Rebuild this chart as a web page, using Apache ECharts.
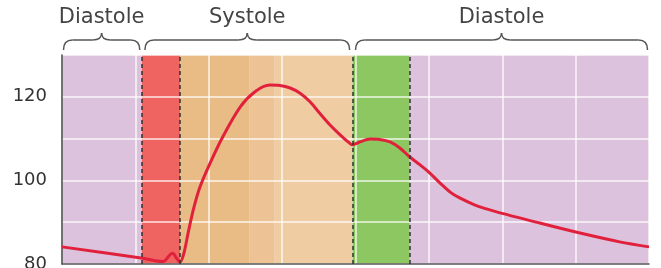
<!DOCTYPE html>
<html>
<head>
    <meta charset="utf-8">
    <script src="https://cdn.jsdelivr.net/npm/echarts@6/dist/echarts.min.js"></script>
    <title></title>
    <style>
        html, body { margin: 0; padding: 0; background: #fff; }
        #main { width: 661px; height: 268px; }
    </style>
</head>
<body>
<div id="main"></div>
<script>
    // time in ms, pressure in mmHg
    var timeMs = [0, 110, 127, 138, 147, 151, 156, 161, 166, 172, 179, 188, 202, 219, 243, 263, 283, 297, 311, 324, 338, 351, 365, 379, 392, 396, 406, 420, 433, 447, 460, 474, 488, 501, 515, 529, 542, 563, 590, 651, 706, 760, 800];
    var pressure = [84.1, 81.4, 80.8, 80.6, 82.2, 82.6, 81.4, 80.5, 82.5, 87.5, 93.0, 98.4, 104.2, 110.4, 117.6, 121.2, 122.8, 122.7, 122.1, 120.9, 118.8, 116.1, 113.3, 110.9, 108.9, 108.5, 109.2, 109.9, 109.8, 109.2, 107.8, 105.6, 103.7, 101.8, 99.4, 97.2, 95.8, 94.1, 92.6, 89.8, 87.4, 85.3, 84.1];

    // background bands [start, end]
    var bandStart = [0, 109, 161, 255, 290, 396, 474];
    var bandEnd = [109, 161, 255, 290, 396, 474, 800];
    var bandColors = ['#dcc2dc', '#ef6360', '#e9bb85', '#edc395', '#f0cca3', '#8cc762', '#dcc2dc'];

    // dashed phase dividers
    var dividers = [109, 161, 396, 474];

    // braces with labels
    var phaseNames = ['Diastole', 'Systole', 'Diastole'];
    var phaseStart = [2, 113, 400];
    var phaseEnd = [106, 392, 798];

    var yTicks = [80, 100, 120];

    var chart = echarts.init(document.getElementById('main'));

    var bandData = bandStart.map(function (s, i) { return [s, bandEnd[i], i]; });
    var braceData = phaseStart.map(function (s, i) { return [s, phaseEnd[i], i]; });

    chart.setOption({
        animation: false,
        grid: { left: 62, right: 12, top: 55, bottom: 4, outerBoundsMode: 'none', containLabel: false },
        xAxis: {
            type: 'value', min: 0, max: 800, interval: 100,
            axisLabel: { show: false },
            axisTick: { show: false },
            axisLine: { lineStyle: { color: '#555', width: 1.5 } },
            splitLine: { show: true, lineStyle: { color: 'rgba(255,255,255,0.85)', width: 1.5 } }
        },
        yAxis: {
            type: 'value', min: 80, max: 130, interval: 10,
            axisTick: { show: false },
            axisLine: { show: true, lineStyle: { color: '#444', width: 1.5 } },
            axisLabel: {
                color: '#333', fontSize: 18, fontFamily: 'DejaVu Sans', margin: 15,
                verticalAlignMinLabel: 'middle',
                formatter: function (v) { return yTicks.indexOf(v) >= 0 ? String(v) : ''; }
            },
            splitLine: { show: true, lineStyle: { color: 'rgba(255,255,255,0.85)', width: 1.5 } }
        },
        series: [
            {
                type: 'custom',
                z: -1,
                data: bandData,
                renderItem: function (params, api) {
                    var p0 = api.coord([api.value(0), 130]);
                    var p1 = api.coord([api.value(1), 80]);
                    return {
                        type: 'rect',
                        shape: { x: p0[0], y: p0[1], width: p1[0] - p0[0], height: p1[1] - p0[1] },
                        style: { fill: bandColors[api.value(2)] }
                    };
                }
            },
            {
                type: 'custom',
                data: braceData,
                clip: false,
                renderItem: function (params, api) {
                    var top = params.coordSys.y;
                    var x0 = api.coord([api.value(0), 130])[0];
                    var x1 = api.coord([api.value(1), 130])[0];
                    var xm = (x0 + x1) / 2;
                    var yb = top - 5, yl = top - 15, yt = top - 22, r = 9;
                    var st = { stroke: '#555', lineWidth: 1.5, fill: null };
                    return {
                        type: 'group',
                        children: [
                            { type: 'bezierCurve', shape: { x1: x0, y1: yb, cpx1: x0, cpy1: yl, x2: x0 + r, y2: yl }, style: st },
                            { type: 'line', shape: { x1: x0 + r, y1: yl, x2: xm - r, y2: yl }, style: st },
                            { type: 'bezierCurve', shape: { x1: xm - r, y1: yl, cpx1: xm, cpy1: yl, x2: xm, y2: yt }, style: st },
                            { type: 'bezierCurve', shape: { x1: xm, y1: yt, cpx1: xm, cpy1: yl, x2: xm + r, y2: yl }, style: st },
                            { type: 'line', shape: { x1: xm + r, y1: yl, x2: x1 - r, y2: yl }, style: st },
                            { type: 'bezierCurve', shape: { x1: x1 - r, y1: yl, cpx1: x1, cpy1: yl, x2: x1, y2: yb }, style: st },
                            {
                                type: 'text',
                                style: {
                                    x: xm, y: top - 37, text: phaseNames[api.value(2)],
                                    textAlign: 'center', textVerticalAlign: 'middle',
                                    fill: '#444', fontSize: 21, fontFamily: 'DejaVu Sans'
                                }
                            }
                        ]
                    };
                }
            },
            {
                type: 'line',
                data: timeMs.map(function (t, i) { return [t, pressure[i]]; }),
                smooth: 0.3,
                showSymbol: false,
                lineStyle: { color: '#e1213c', width: 3 },
                markLine: {
                    silent: true,
                    symbol: ['none', 'none'],
                    label: { show: false },
                    lineStyle: { color: '#333', width: 1.5, type: [4, 3] },
                    data: dividers.map(function (d) { return { xAxis: d }; })
                }
            }
        ]
    });
</script>
</body>
</html>
